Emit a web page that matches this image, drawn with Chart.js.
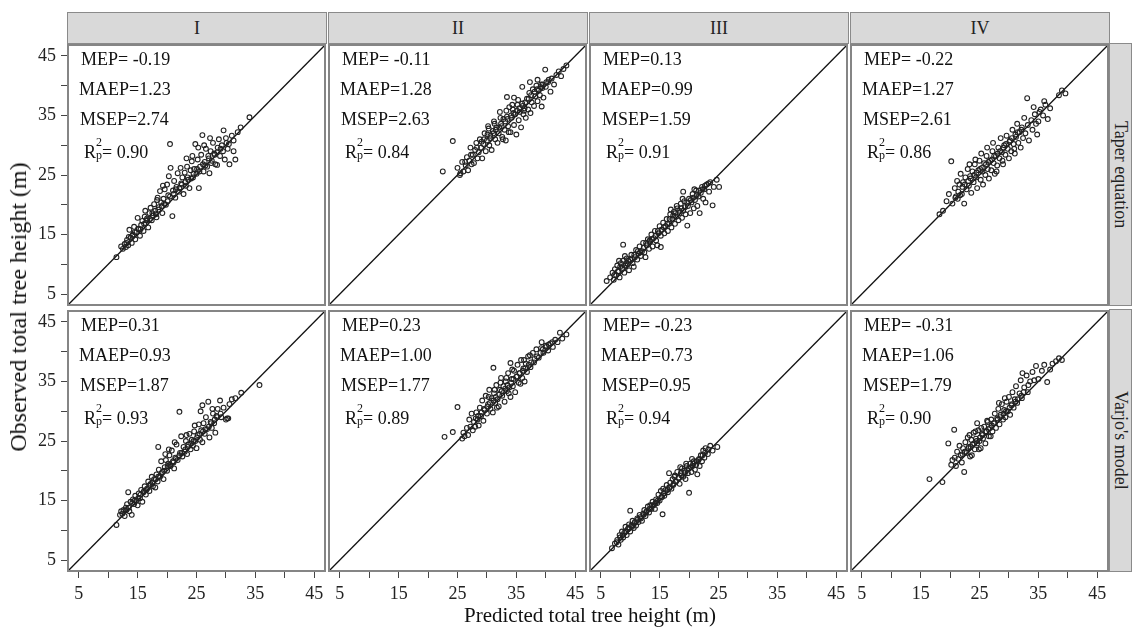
<!DOCTYPE html>
<html>
<head>
<meta charset="utf-8">
<script src="https://cdn.jsdelivr.net/npm/chart.js@4.4.1/dist/chart.umd.min.js"></script>
<style>
    body { margin: 0; width: 1132px; height: 627px; background: #fff; position: relative; overflow: hidden;
           font-family: "Liberation Serif", "Times New Roman", serif; color: #111; }
    .strip { position: absolute; background: #d9d9d9; border: 1.5px solid #8a8a8a; box-sizing: border-box;
             display: flex; align-items: center; justify-content: center; font-size: 18px; color: #222; }
    .vtext { writing-mode: vertical-rl; }
    .stat { position: absolute; font-size: 18px; line-height: 18px; white-space: nowrap; color: #111; }
    .sc { display: inline-block; position: relative; width: 6px; height: 1px; }
    .sc span { position: absolute; left: 0; font-size: 12px; line-height: 12px; }
    .sup { top: -21px; }
    .sub { top: -8px; }
    .title { position: absolute; white-space: nowrap; color: #111; }
</style>
</head>
<body>
<script>
// facets
const colLabels = ['I', 'II', 'III', 'IV'];
const rowLabels = ['Taper equation', "Varjo's model"];

// axes (same for x and y)
const axisMin = 3, axisMax = 47;
const tickStep = 5;
const labelledTicks = [5, 15, 25, 35, 45];
const diagonal = [[axisMin, axisMin], [axisMax, axisMax]];

// fit statistics, one value per column
const mepTaper = [-0.19, -0.11, 0.13, -0.22];
const maepTaper = [1.23, 1.28, 0.99, 1.27];
const msepTaper = [2.74, 2.63, 1.59, 2.61];
const r2Taper = [0.90, 0.84, 0.91, 0.86];
const mepVarjo = [0.31, 0.23, -0.23, -0.31];
const maepVarjo = [0.93, 1.00, 0.73, 1.06];
const msepVarjo = [1.87, 1.77, 0.95, 1.79];
const r2Varjo = [0.93, 0.89, 0.94, 0.90];

// [predicted, observed] pairs
const taperI = [[11.4,11.2],[12.2,13.0],[12.5,12.6],[12.8,13.4],[13.0,12.9],[13.2,14.1],[13.4,13.2],[13.6,15.8],[13.8,14.5],[14.0,13.6],[14.2,15.0],[14.4,16.3],[14.6,14.2],[14.8,15.4],[15.0,17.8],[15.2,15.9],[15.4,14.8],[15.6,16.6],[15.8,17.3],[16.0,15.6],[16.2,18.0],[16.4,16.9],[16.6,17.7],[16.8,16.2],[17.0,18.6],[17.2,19.5],[17.4,17.4],[17.6,18.2],[17.8,20.1],[18.0,19.0],[18.2,17.9],[18.4,21.2],[18.6,19.6],[18.8,22.3],[19.0,20.4],[19.2,18.6],[19.4,21.0],[19.6,22.6],[19.8,20.0],[20.0,23.4],[20.2,21.6],[20.5,30.2],[20.6,26.2],[20.9,18.1],[21.0,22.4],[21.2,24.0],[21.4,21.2],[21.6,23.0],[21.8,25.3],[22.0,22.2],[22.3,26.2],[22.4,23.6],[22.6,24.6],[22.8,21.8],[23.0,25.4],[23.2,23.2],[23.4,26.4],[23.6,24.2],[23.8,22.8],[24.0,25.8],[24.2,27.3],[24.4,24.6],[24.6,26.0],[24.8,30.2],[25.0,25.2],[25.2,27.6],[25.4,22.8],[25.6,26.4],[25.8,28.4],[26.0,31.7],[26.2,25.6],[26.4,27.2],[26.6,29.4],[26.8,26.4],[27.0,28.2],[27.2,25.3],[27.4,29.0],[27.6,27.4],[27.8,30.4],[28.0,28.6],[28.2,26.8],[28.5,26.7],[28.6,29.6],[28.8,31.0],[29.0,28.2],[29.3,30.0],[29.6,32.5],[29.8,27.6],[30.0,31.2],[30.3,29.4],[30.6,26.8],[31.0,31.6],[31.3,29.0],[31.3,30.8],[31.6,27.6],[32.0,32.2],[32.5,33.0],[34.0,34.7],
    [13.1,13.6],[13.5,14.6],[14.1,14.8],[14.5,15.4],[15.1,16.0],[15.5,15.9],[16.1,16.8],[16.5,17.4],[17.1,17.6],[17.5,18.6],[18.1,18.4],[18.5,19.2],[19.1,19.8],[19.5,20.2],[20.1,20.6],[20.5,21.4],[21.1,21.8],[21.5,22.6],[22.1,22.8],[22.5,23.4],[23.1,23.8],[23.5,24.6],[24.1,24.4],[24.5,25.2],[25.1,26.0],[25.5,25.6],[26.1,26.8],[26.5,26.6],[27.1,27.8],[27.5,27.0],[28.1,28.4],[28.5,28.8],[29.1,29.4],[29.5,29.0],[30.1,30.4],[30.5,30.2],[19.3,23.2],[20.3,24.8],[23.3,27.8],[24.3,28.2],[25.3,29.6],[26.3,30.0],[27.3,31.2],[18.3,20.8],[16.3,19.0]];
const taperII = [[22.5,25.6],[24.2,30.7],[25.0,26.2],[25.4,25.0],[25.5,25.3],[25.8,27.2],[26.0,25.6],[26.4,26.6],[26.6,28.0],[26.8,25.8],[27.0,27.4],[27.2,29.6],[27.4,26.8],[27.6,28.4],[27.8,27.0],[28.0,29.2],[28.2,30.4],[28.4,27.8],[28.6,28.8],[28.8,31.0],[29.0,29.6],[29.2,27.8],[29.4,30.2],[29.6,32.0],[29.8,29.0],[30.0,30.8],[30.2,33.2],[30.4,30.0],[30.6,31.6],[30.8,29.2],[31.0,32.4],[31.2,34.0],[31.4,31.0],[31.6,33.0],[31.8,30.4],[32.0,32.0],[32.2,35.6],[32.4,33.6],[32.6,31.4],[32.8,34.4],[33.0,32.6],[33.2,30.8],[33.4,34.8],[33.4,38.1],[33.6,33.2],[33.8,36.4],[34.0,32.2],[34.2,34.6],[34.4,36.0],[34.6,33.4],[34.6,38.0],[34.8,35.2],[35.0,31.8],[35.2,36.8],[35.4,34.2],[35.6,35.6],[35.8,33.0],[36.0,37.0],[36.0,39.8],[36.2,35.2],[36.4,36.2],[36.6,34.6],[36.8,37.8],[37.0,36.0],[37.2,38.8],[37.3,40.6],[37.4,35.4],[37.6,37.2],[37.8,39.4],[38.0,36.6],[38.2,38.2],[38.4,40.0],[38.6,37.4],[38.6,41.0],[38.8,39.2],[39.0,38.4],[39.2,40.2],[39.3,36.5],[39.4,39.6],[39.6,38.0],[39.9,42.7],[40.0,39.8],[40.4,40.6],[40.8,39.0],[41.0,41.2],[41.4,40.2],[41.8,41.8],[42.2,42.4],[42.6,41.6],[43.0,42.8],[43.5,43.4],
    [29.1,30.6],[29.5,31.0],[30.1,31.8],[30.5,31.2],[31.1,32.0],[31.5,32.6],[32.1,33.0],[32.5,33.2],[33.1,34.0],[33.5,34.4],[34.1,35.0],[34.5,35.4],[35.1,35.8],[35.5,36.2],[36.1,36.6],[36.5,37.2],[37.1,37.8],[37.5,38.4],[38.1,39.0],[38.5,39.4],[39.1,39.8],[39.5,40.2],[40.1,40.6],[40.5,41.0],[30.3,32.8],[31.3,33.6],[32.3,34.6],[33.3,35.8],[34.3,36.8],[28.3,29.6],[27.3,28.4],[26.3,27.2],[35.3,37.6],[36.3,35.8],[32.7,31.0],[33.7,32.2]];
const taperIII = [[6.0,7.2],[6.6,7.8],[7.0,8.6],[7.2,7.4],[7.4,9.2],[7.6,8.2],[7.8,9.8],[8.0,8.8],[8.2,7.8],[8.4,10.2],[8.6,9.2],[8.8,13.3],[8.8,10.6],[9.0,8.6],[9.2,9.8],[9.4,11.0],[9.6,10.0],[9.8,9.0],[10.0,10.8],[10.2,11.6],[10.4,10.2],[10.6,9.6],[10.8,11.2],[11.0,12.4],[11.2,10.8],[11.4,11.8],[11.6,13.0],[11.8,11.4],[12.0,12.2],[12.2,13.6],[12.4,12.0],[12.6,11.2],[12.8,13.2],[13.0,14.2],[13.2,12.6],[13.4,13.8],[13.6,15.0],[13.8,13.0],[14.0,14.4],[14.2,15.6],[14.4,14.0],[14.6,13.2],[14.8,15.2],[15.0,16.4],[15.2,12.9],[15.2,14.8],[15.4,15.8],[15.6,17.0],[15.8,15.2],[16.0,16.4],[16.2,17.6],[16.4,15.6],[16.6,16.8],[16.8,18.4],[17.0,16.2],[17.2,17.6],[17.4,18.8],[17.6,16.8],[17.8,18.0],[18.0,19.4],[18.2,17.4],[18.4,18.6],[18.6,20.2],[18.8,17.8],[19.0,22.2],[19.0,19.0],[19.2,20.6],[19.4,18.4],[19.7,16.5],[19.8,19.8],[20.0,21.0],[20.2,18.6],[20.4,20.4],[20.6,21.8],[20.8,19.4],[21.0,20.8],[21.2,22.4],[21.4,19.8],[21.6,21.4],[21.8,18.6],[22.0,22.0],[22.2,23.0],[22.4,21.0],[22.6,22.6],[22.8,20.4],[23.0,23.4],[23.4,22.2],[23.6,23.8],[24.0,19.9],[24.2,23.0],[24.7,24.2],[25.1,23.0],
    [7.3,8.2],[7.9,8.8],[8.3,9.6],[8.7,9.4],[9.3,10.2],[9.7,10.6],[10.3,11.0],[10.7,11.6],[11.3,12.2],[11.7,12.0],[12.3,12.8],[12.7,13.6],[13.3,14.0],[13.7,14.2],[14.3,14.8],[14.7,15.6],[15.3,15.8],[15.7,16.2],[16.3,16.8],[16.7,17.6],[17.3,18.2],[17.7,18.6],[18.3,19.0],[18.7,19.4],[19.3,19.6],[19.7,20.4],[20.3,20.8],[20.7,21.2],[21.3,21.6],[21.7,22.4],[22.3,22.6],[22.7,23.2],[23.3,23.6],[8.1,10.6],[9.1,11.4],[16.9,19.2],[17.9,19.8],[18.9,21.0],[20.9,22.6]];
const taperIV = [[18.2,18.4],[18.8,19.0],[19.4,20.6],[19.8,21.8],[20.2,27.3],[20.4,20.2],[20.8,22.8],[21.0,21.4],[21.2,24.0],[21.4,22.2],[21.6,23.4],[21.8,25.2],[22.0,21.8],[22.2,23.8],[22.4,20.2],[22.6,24.6],[22.8,22.6],[23.0,26.0],[23.2,23.2],[23.4,24.8],[23.6,22.0],[23.8,25.6],[24.0,23.8],[24.2,26.8],[24.4,24.6],[24.6,22.8],[24.8,25.8],[25.0,27.4],[25.2,24.2],[25.4,26.2],[25.6,23.4],[25.8,27.0],[26.0,25.0],[26.2,28.2],[26.4,26.0],[26.6,24.4],[26.8,27.4],[27.0,25.8],[27.2,29.0],[27.4,27.0],[27.6,25.2],[27.8,28.2],[28.0,26.6],[28.2,29.6],[28.4,27.8],[28.6,31.2],[28.8,28.8],[29.0,26.8],[29.2,30.0],[29.4,28.4],[29.6,31.6],[29.8,29.4],[30.0,27.8],[30.2,30.8],[30.4,29.0],[30.6,32.6],[30.8,30.2],[31.0,28.6],[31.2,31.4],[31.4,33.6],[31.6,30.4],[31.8,32.2],[32.0,29.6],[32.2,33.0],[32.4,31.2],[32.6,34.6],[32.8,32.0],[33.1,37.9],[33.2,33.4],[33.4,30.8],[33.8,34.2],[34.0,32.6],[34.4,35.2],[34.8,31.8],[35.0,34.0],[35.4,36.0],[35.8,35.0],[36.2,36.8],[36.6,34.4],[37.0,36.2],[38.5,38.4],[39.0,39.2],[39.6,38.7],
    [22.1,23.0],[22.5,23.4],[23.1,24.0],[23.5,24.4],[24.1,25.0],[24.5,25.4],[25.1,26.0],[25.5,25.6],[26.1,26.8],[26.5,27.2],[27.1,27.6],[27.5,28.2],[28.1,28.6],[28.5,29.0],[29.1,29.6],[29.5,30.2],[30.1,30.6],[30.5,31.2],[31.1,31.8],[31.5,32.2],[32.1,32.6],[23.3,26.8],[24.3,27.6],[25.3,28.6],[26.3,29.6],[27.3,30.4],[21.3,21.0],[21.7,21.6],[20.9,21.2],[27.9,25.6],[28.9,27.4],[30.9,29.4],[34.2,36.4],[35.2,35.6],[34.6,33.6],[36.0,37.4]];
const varjoI = [[11.4,10.9],[12.0,12.6],[12.2,13.2],[12.4,12.8],[12.6,13.4],[12.8,12.4],[13.0,13.8],[13.2,14.4],[13.4,16.4],[13.6,13.2],[13.8,14.8],[14.0,12.6],[14.2,15.2],[14.4,14.4],[14.6,15.8],[14.8,15.0],[15.0,14.2],[15.2,16.2],[15.4,15.4],[15.6,16.8],[15.8,14.8],[16.0,16.4],[16.2,17.4],[16.4,16.0],[16.6,17.0],[16.8,18.2],[17.0,16.6],[17.2,17.8],[17.4,19.0],[17.6,17.4],[17.8,18.6],[18.0,17.2],[18.2,19.4],[18.4,18.2],[18.5,24.0],[18.6,20.2],[18.8,19.0],[19.0,21.6],[19.2,19.8],[19.4,18.6],[19.6,20.6],[19.8,21.8],[20.0,20.0],[20.2,21.2],[20.4,22.6],[20.6,20.8],[20.8,23.4],[21.0,21.6],[21.2,20.4],[21.4,22.2],[21.6,24.4],[21.8,21.8],[22.1,29.9],[22.2,23.0],[22.4,25.8],[22.6,22.4],[22.8,24.0],[23.0,23.2],[23.2,25.0],[23.4,22.8],[23.6,24.4],[23.8,26.2],[24.0,23.6],[24.2,25.2],[24.4,24.2],[24.6,26.6],[24.8,25.0],[25.0,23.8],[25.2,26.0],[25.4,27.8],[25.6,25.2],[25.8,26.8],[26.0,31.0],[26.0,24.8],[26.2,28.0],[26.4,26.2],[26.6,29.0],[26.8,27.0],[27.0,31.6],[27.2,25.6],[27.4,28.2],[27.6,27.2],[27.8,29.6],[28.0,28.0],[28.2,26.4],[28.4,29.2],[28.6,30.4],[29.0,31.8],[29.2,29.0],[29.6,30.6],[30.0,28.6],[30.2,28.8],[30.4,28.8],[30.6,31.2],[31.0,32.0],[31.6,32.2],[32.6,33.1],[35.7,34.4],
    [13.1,13.4],[13.5,13.8],[14.1,14.6],[14.5,15.0],[15.1,15.4],[15.5,16.0],[16.1,16.6],[16.5,16.8],[17.1,17.6],[17.5,18.0],[18.1,18.6],[18.5,19.0],[19.1,19.6],[19.5,20.0],[20.1,20.8],[20.5,21.0],[21.1,21.4],[21.5,22.0],[22.1,22.6],[22.5,23.0],[23.1,23.6],[23.5,24.0],[24.1,24.6],[24.5,25.0],[25.1,25.6],[25.5,26.2],[26.1,26.6],[26.5,27.0],[27.1,27.4],[27.5,28.0],[28.1,28.6],[28.5,29.0],[29.1,29.6],[20.3,23.6],[21.3,24.8],[23.3,26.0],[19.7,22.8],[24.7,27.6],[27.7,30.4],[25.7,30.0]];
const varjoII = [[22.8,25.7],[24.2,26.5],[25.0,30.7],[25.8,25.4],[26.0,26.4],[26.2,25.8],[26.6,27.2],[26.8,26.0],[27.0,28.6],[27.2,27.4],[27.4,29.6],[27.6,26.8],[27.8,28.2],[28.0,27.4],[28.2,29.8],[28.4,28.6],[28.6,27.6],[28.8,30.6],[29.0,29.2],[29.2,31.8],[29.4,28.4],[29.6,30.2],[29.8,32.6],[30.0,29.6],[30.2,31.2],[30.4,33.6],[30.6,30.4],[30.8,32.2],[31.0,29.8],[31.1,37.3],[31.2,33.0],[31.4,31.4],[31.6,34.4],[31.8,32.0],[32.0,30.8],[32.2,33.6],[32.4,35.6],[32.6,32.6],[32.8,34.2],[33.0,31.6],[33.2,35.0],[33.4,33.4],[33.6,36.4],[33.8,34.0],[34.0,38.1],[34.0,32.4],[34.2,35.4],[34.4,34.2],[34.6,36.8],[34.8,33.2],[35.0,35.8],[35.2,37.8],[35.4,34.8],[35.6,36.4],[35.8,38.6],[36.0,35.6],[36.2,37.2],[36.4,35.0],[36.6,38.0],[36.8,36.6],[37.0,39.2],[37.4,37.4],[37.8,39.8],[38.0,38.2],[38.4,40.4],[38.8,39.0],[39.2,40.6],[39.6,39.8],[40.0,41.0],[40.4,40.2],[40.8,41.4],[41.2,40.8],[41.6,42.0],[42.0,41.6],[42.4,43.2],[42.8,42.2],[43.5,42.9],
    [28.1,28.8],[28.5,29.2],[29.1,29.8],[29.5,30.4],[30.1,30.8],[30.5,31.4],[31.1,31.8],[31.5,32.4],[32.1,32.8],[32.5,33.4],[33.1,33.8],[33.5,34.4],[34.1,34.8],[34.5,35.4],[35.1,35.8],[35.5,36.4],[36.1,36.8],[36.5,37.2],[37.1,37.8],[37.5,38.2],[38.1,38.8],[38.5,39.2],[39.1,39.8],[39.5,40.4],[40.1,40.8],[40.5,41.2],[41.1,41.6],[30.3,32.4],[31.3,33.6],[32.3,34.8],[33.3,35.6],[34.3,37.0],[36.3,38.6],[37.3,39.4],[39.3,41.6],[31.7,30.6],[33.7,33.0],[35.7,34.6]];
const varjoIII = [[6.9,7.0],[7.4,7.8],[7.8,8.4],[8.0,7.6],[8.2,9.2],[8.4,8.4],[8.6,9.8],[8.8,8.8],[9.0,9.6],[9.2,10.6],[9.4,9.2],[9.6,10.2],[9.8,11.0],[10.0,13.3],[10.0,9.8],[10.2,10.8],[10.4,11.6],[10.6,10.4],[10.8,11.4],[11.0,10.8],[11.2,12.0],[11.4,11.4],[11.6,12.6],[11.8,12.0],[12.0,11.6],[12.2,12.8],[12.4,13.4],[12.6,12.4],[12.8,13.2],[13.0,14.0],[13.2,13.0],[13.4,14.2],[13.6,13.6],[13.8,14.8],[14.0,14.2],[14.2,13.6],[14.4,15.2],[14.6,14.6],[14.8,16.0],[15.0,15.0],[15.2,16.6],[15.5,12.7],[15.4,15.6],[15.6,17.0],[15.8,15.8],[16.0,16.8],[16.2,17.6],[16.4,16.4],[16.6,19.6],[16.6,17.2],[16.8,18.0],[17.0,17.0],[17.2,18.6],[17.4,17.8],[17.6,19.2],[17.8,18.2],[18.0,19.8],[18.2,18.8],[18.4,17.8],[18.6,19.6],[18.8,20.4],[19.0,19.0],[19.2,20.0],[19.4,18.6],[19.6,20.8],[19.8,19.6],[20.0,16.3],[20.0,20.4],[20.2,21.2],[20.4,19.8],[20.6,20.8],[20.8,21.6],[21.0,20.2],[21.2,21.0],[21.4,19.4],[21.6,21.8],[21.8,20.8],[22.0,22.6],[22.2,21.6],[22.4,23.4],[22.6,22.2],[22.8,23.8],[23.2,22.8],[23.6,24.2],[24.0,23.4],[24.8,24.0],
    [7.7,8.0],[8.3,8.8],[8.7,9.2],[9.3,9.8],[9.7,10.4],[10.3,10.6],[10.7,11.2],[11.3,11.8],[11.7,12.2],[12.3,12.6],[12.7,13.0],[13.3,13.6],[13.7,14.2],[14.3,14.6],[14.7,15.0],[15.3,15.6],[15.7,16.2],[16.3,16.8],[16.7,17.2],[17.3,17.6],[17.7,18.2],[18.3,18.8],[18.7,19.2],[19.3,19.6],[19.7,20.2],[20.3,20.6],[20.7,21.2],[21.3,21.6],[21.7,22.0],[22.3,22.6],[22.7,23.0],[23.3,23.6],[18.5,20.6],[19.5,21.2],[17.5,19.0],[20.5,22.0]];
const varjoIV = [[16.5,18.6],[18.7,18.1],[19.7,24.6],[20.2,21.0],[20.4,21.8],[20.7,26.9],[20.8,22.2],[21.0,20.8],[21.2,23.2],[21.4,22.0],[21.6,24.2],[21.8,22.6],[22.0,21.4],[22.2,23.8],[22.4,19.8],[22.6,24.8],[22.8,23.0],[23.0,25.6],[23.2,24.0],[23.4,22.4],[23.6,25.2],[23.8,24.4],[24.0,26.4],[24.2,23.6],[24.4,25.4],[24.6,28.0],[24.6,24.6],[24.8,26.8],[25.0,25.0],[25.2,23.8],[25.4,26.2],[25.6,25.4],[25.8,27.4],[26.0,24.6],[26.2,26.6],[26.4,28.2],[26.6,25.8],[26.8,27.2],[27.0,28.6],[27.2,26.6],[27.4,28.0],[27.6,29.6],[27.8,27.2],[28.0,28.8],[28.2,30.4],[28.4,27.8],[28.6,29.4],[28.8,31.2],[29.0,28.6],[29.2,30.2],[29.4,29.0],[29.6,31.6],[29.8,30.0],[30.0,32.4],[30.2,29.4],[30.4,31.0],[30.6,33.2],[30.8,30.6],[31.0,32.0],[31.2,34.2],[31.4,31.4],[31.8,33.0],[32.0,35.2],[32.2,32.2],[32.6,34.0],[33.0,36.0],[33.2,33.2],[33.6,35.0],[34.0,36.6],[34.6,37.6],[35.0,35.4],[35.6,36.8],[36.5,34.9],[37.4,38.0],[38.0,38.4],[38.5,38.9],[39.0,38.6],
    [22.1,22.8],[22.5,23.2],[23.1,23.8],[23.5,24.0],[24.1,24.6],[24.5,25.0],[25.1,25.6],[25.5,26.0],[26.1,26.6],[26.5,27.0],[27.1,27.6],[27.5,28.0],[28.1,28.6],[28.5,29.0],[29.1,29.6],[29.5,30.0],[30.1,30.6],[30.5,31.2],[31.1,31.6],[31.5,32.0],[32.1,32.6],[32.5,33.2],[23.3,26.0],[24.3,26.6],[25.3,27.2],[26.3,28.4],[28.3,31.4],[29.3,32.2],[23.7,22.6],[24.9,23.6],[26.9,25.8],[32.3,36.4],[33.3,34.4],[34.3,35.2],[36.0,37.8],[37.0,37.0]];

const panelData = [[taperI, taperII, taperIII, taperIV], [varjoI, varjoII, varjoIII, varjoIV]];
const statRows = [[mepTaper, maepTaper, msepTaper, r2Taper], [mepVarjo, maepVarjo, msepVarjo, r2Varjo]];

// layout (px)
const colLeft = [67, 328, 589, 850];
const rowTop = [44, 310];
const plotW = 259, plotH = 262;
const yAxisW = 50, xAxisH = 40;
const FONT = 'Liberation Serif';

function addDiv(cls, css, html) {
    const d = document.createElement('div');
    d.className = cls;
    d.style.cssText = css;
    d.innerHTML = html;
    document.body.appendChild(d);
    return d;
}

const frame = {
    id: 'frame',
    afterDraw(chart) {
        const { ctx, chartArea: a } = chart;
        ctx.save();
        ctx.strokeStyle = '#858585';
        ctx.lineWidth = 2;
        ctx.strokeRect(a.left + 1, a.top + 1, a.right - a.left - 2, a.bottom - a.top - 2);
        ctx.restore();
    }
};

function axis(show) {
    const cfg = {
        type: 'linear', min: axisMin, max: axisMax, display: show,
        ticks: {
            stepSize: tickStep, includeBounds: false, autoSkip: false, maxRotation: 0, padding: 5,
            color: '#222', font: { family: FONT, size: 18 },
            callback: v => labelledTicks.includes(v) ? String(v) : ''
        },
        grid: { drawOnChartArea: false, tickLength: 6, color: '#444', lineWidth: 1 },
        border: { display: false }
    };
    // pin the axis band (and drop label overhang padding) so every plot area lines up
    if (show) cfg.afterFit = s => {
        if (s.isHorizontal()) s.height = xAxisH; else s.width = yAxisW;
        s.paddingTop = s.paddingBottom = s.paddingLeft = s.paddingRight = 0;
    };
    return cfg;
}

function fmtMep(v) {
    return v < 0 ? '= ' + v.toFixed(2) : '=' + v.toFixed(2);
}

function renderPanel(r, c) {
    const leftCol = c === 0, bottomRow = r === 1;
    const canvas = document.createElement('canvas');
    const x0 = colLeft[c] - (leftCol ? yAxisW : 0);
    const w = plotW + (leftCol ? yAxisW : 0);
    const h = plotH + (bottomRow ? xAxisH : 0);
    canvas.width = w;
    canvas.height = h;
    canvas.style.cssText = `position:absolute;left:${x0}px;top:${rowTop[r]}px;width:${w}px;height:${h}px`;
    document.body.appendChild(canvas);

    new Chart(canvas, {
        type: 'scatter',
        data: {
            datasets: [
                {
                    type: 'line',
                    data: diagonal.map(p => ({ x: p[0], y: p[1] })),
                    borderColor: '#111', borderWidth: 1.3, pointRadius: 0, pointHoverRadius: 0, order: 1
                },
                {
                    data: panelData[r][c].map(p => ({ x: p[0], y: p[1] })),
                    pointStyle: 'circle', pointRadius: 2.4, borderWidth: 1.1,
                    borderColor: '#222', backgroundColor: 'rgba(255,255,255,0)', order: 0
                }
            ]
        },
        options: {
            responsive: false, animation: false,
            layout: { padding: 0, autoPadding: false },
            plugins: { legend: { display: false }, tooltip: { enabled: false } },
            scales: { x: axis(bottomRow), y: axis(leftCol) }
        },
        plugins: [frame]
    });

    // statistics text
    const [mep, maep, msep, r2] = statRows[r];
    const top = rowTop[r], left = colLeft[c];
    addDiv('stat', `left:${left + 14}px;top:${top + 6}px`, 'MEP' + fmtMep(mep[c]));
    addDiv('stat', `left:${left + 12}px;top:${top + 36}px`, 'MAEP=' + maep[c].toFixed(2));
    addDiv('stat', `left:${left + 13}px;top:${top + 66}px`, 'MSEP=' + msep[c].toFixed(2));
    addDiv('stat', `left:${left + 17}px;top:${top + 99}px`,
        'R<span class="sc"><span class="sup">2</span><span class="sub">p</span></span>= ' + r2[c].toFixed(2));
}

for (let r = 0; r < 2; r++) {
    for (let c = 0; c < 4; c++) renderPanel(r, c);
}

// column strips
colLabels.forEach((lab, c) => {
    addDiv('strip', `left:${colLeft[c]}px;top:12px;width:${plotW + 1}px;height:32px`, lab);
});
// row strips
rowLabels.forEach((lab, r) => {
    addDiv('strip', `left:1109px;top:${rowTop[r] - 1}px;width:23px;height:${plotH + 1}px`,
        `<span class="vtext">${lab}</span>`);
});

// axis titles
addDiv('title', 'left:590px;top:605px;font-size:21px;line-height:21px;transform:translateX(-50%)',
    'Predicted total tree height (m)');
addDiv('title', 'left:18px;top:307px;font-size:24px;line-height:24px;transform:translate(-50%,-50%) rotate(-90deg)',
    'Observed total tree height (m)');
</script>
</body>
</html>
